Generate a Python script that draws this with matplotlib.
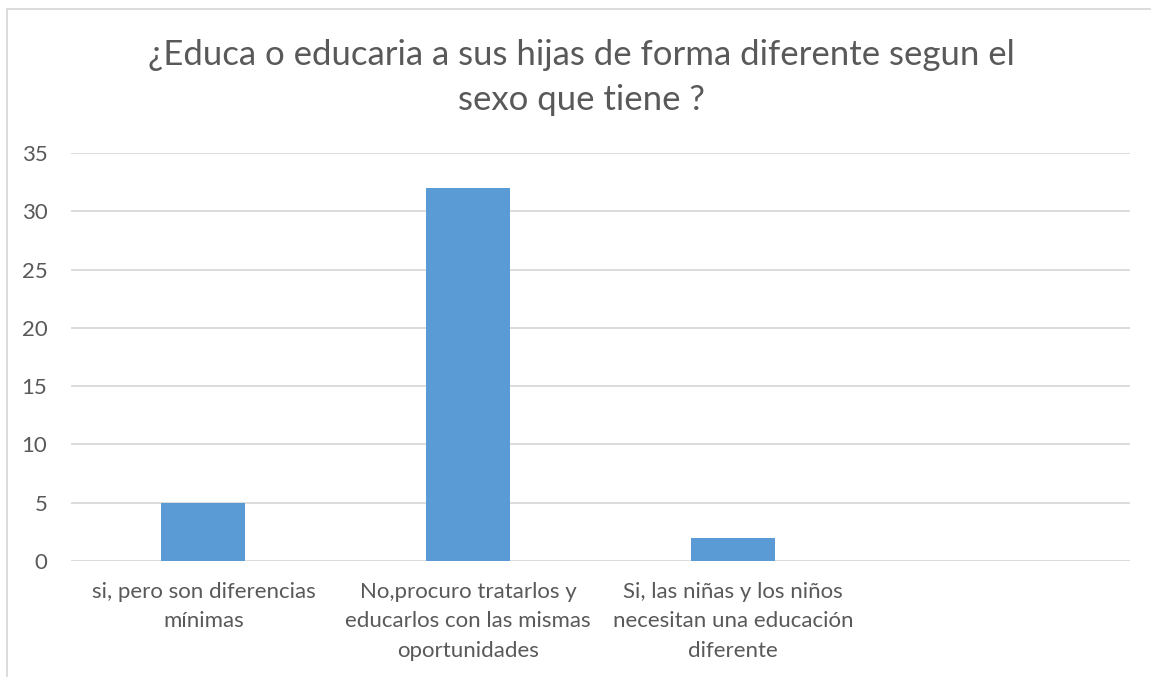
import matplotlib.pyplot as plt
from matplotlib.lines import Line2D

categories = [
    "si, pero son diferencias\nmínimas",
    "No,procuro tratarlos y\neducarlos con las mismas\noportunidades",
    "Si, las niñas y los niños\nnecesitan una educación\ndiferente",
    "",
]
values = [5, 32, 2, 0]
yticks = [0, 5, 10, 15, 20, 25, 30, 35]

TEXT = "#595959"
GRID = "#d9d9d9"
BAR = "#5b9bd5"

plt.rcParams["font.family"] = ["Lato", "DejaVu Sans"]

fig = plt.figure(figsize=(11.51, 6.77), dpi=100)
ax = fig.add_axes([71 / 1151, 1 - 561 / 677, (1130 - 71) / 1151, (561 - 153) / 677])

x = range(len(categories))
ax.bar(x, values, width=0.317, color=BAR, zorder=3)

ax.set_xlim(-0.5, len(categories) - 0.5)
ax.set_ylim(0, 35)
ax.set_yticks(yticks)
ax.set_xticks(list(x))
ax.set_xticklabels(categories, linespacing=1.6)
ax.yaxis.grid(True, color=GRID, linewidth=1.3, zorder=0)
for s in ax.spines.values():
    s.set_visible(False)
ax.tick_params(axis="both", length=0, colors=TEXT, labelsize=16)
ax.tick_params(axis="y", pad=17)
ax.tick_params(axis="x", pad=15)

fig.text(0.505, 1 - 55 / 677, "¿Educa o educaria a sus hijas de forma diferente segun el",
         ha="center", va="center", fontsize=25, color=TEXT)
fig.text(0.505, 1 - 100 / 677, "sexo que tiene ?",
         ha="center", va="center", fontsize=25, color=TEXT)

# chart frame (only top and left visible in the crop)
fig.add_artist(Line2D([7 / 1151, 7 / 1151], [0, 1 - 9 / 677], transform=fig.transFigure,
                      color=GRID, linewidth=1.3))
fig.add_artist(Line2D([7 / 1151, 1], [1 - 9 / 677, 1 - 9 / 677], transform=fig.transFigure,
                      color=GRID, linewidth=1.3))

fig.savefig("out.png", dpi=100, facecolor="white")
